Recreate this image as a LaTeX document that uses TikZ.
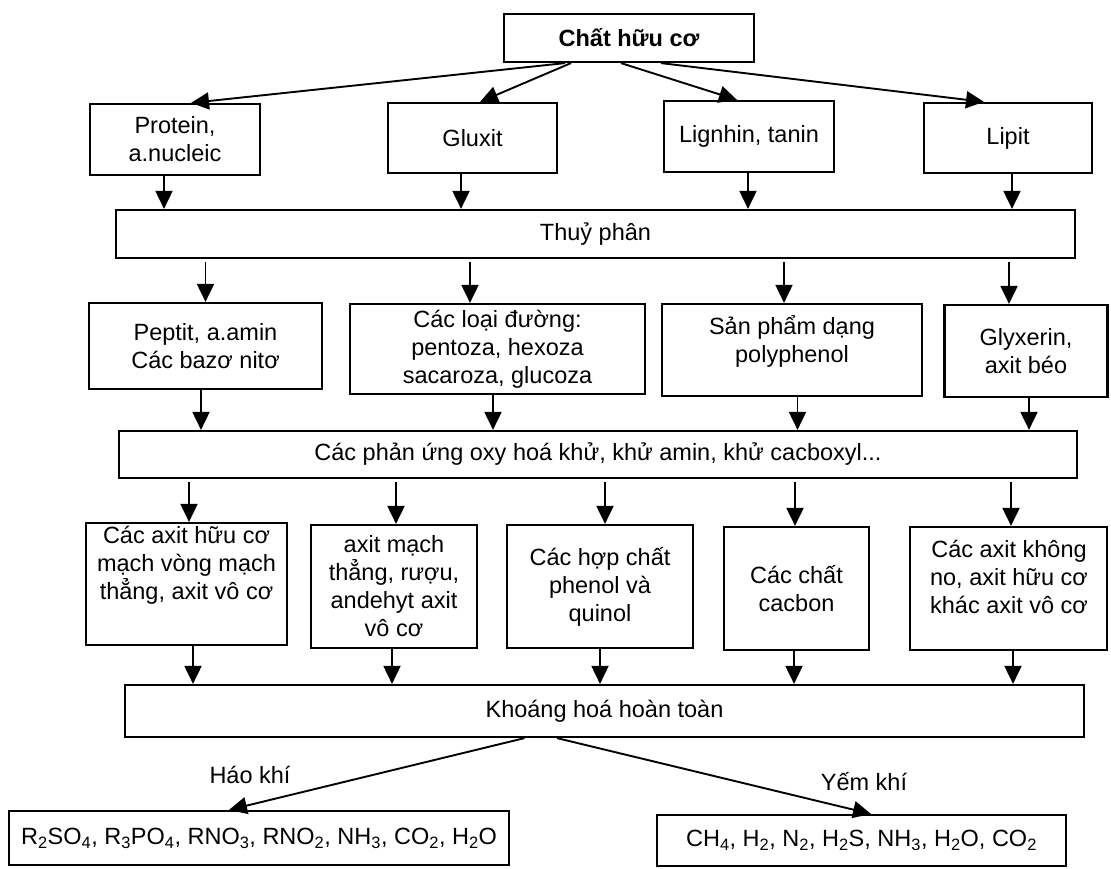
\documentclass[tikz,border=0pt]{standalone}
\usepackage{fontspec}
\setmainfont{Liberation Sans}
\usetikzlibrary{arrows.meta}
\newcommand\vdown[3]{\draw[arr] ([xshift=#3]#1.south) -- ([xshift=#3]#1.south |- #2.north);}
\newcommand\vfrombar[3]{\draw[arr, shorten <=3pt] ([xshift=#3]#2.north |- #1.south) -- ([xshift=#3]#2.north);}
\begin{document}
\begin{tikzpicture}[x=1pt,y=-1pt,
  box/.style={draw, line width=2.2pt, rectangle, inner sep=0pt, align=center, font=\fontsize{23.5}{28}\selectfont},
  lbl/.style={inner sep=0pt, align=center, font=\fontsize{23.5}{28}\selectfont},
  arr/.style={line width=1.9pt, -{Triangle[length=18pt,width=17pt]}}
]
\useasboundingbox[fill=white] (0,0) rectangle (1111,868);

% top
\node[box, minimum width=250pt, minimum height=48pt] (top) at (629,38) {\bfseries Chất hữu cơ};

% row 1
\node[box, minimum width=170pt, minimum height=71pt] (prot) at (175,139.5) {Protein,\\a.nucleic};
\node[box, minimum width=169pt, minimum height=70pt] (glu) at (472.5,138) {Gluxit};
\node[box, minimum width=170pt, minimum height=71pt] (lig) at (749,136.5) {Lignhin, tanin};
\node[box, minimum width=168pt, minimum height=70pt] (lip) at (1008,138) {Lipit};

% bar 1
\node[box, minimum width=959pt, minimum height=48pt] (thuy) at (595.5,234) {Thuỷ phân};

% row 2
\node[box, minimum width=233pt, minimum height=86pt] (pep) at (205.5,346) {Peptit, a.amin\\Các bazơ nitơ};
\node[box, minimum width=295pt, minimum height=90pt] (duong) at (497.5,349) {Các loại đường:\\pentoza, hexoza\\sacaroza, glucoza};
\node[box, minimum width=260pt, minimum height=92pt] (sp) at (792,350) {};
\node[lbl] (spt) at (792,341) {Sản phẩm dạng\\polyphenol};
\node[box, minimum width=163pt, minimum height=92pt] (gly) at (1026,351) {Glyxerin,\\axit béo};

% bar 2
\node[box, minimum width=958pt, minimum height=47pt] (pu) at (598,454.5) {Các phản ứng oxy hoá khử, khử amin, khử cacboxyl...};

% row 3
\node[box, minimum width=201pt, minimum height=122pt] (ra) at (186.5,584) {};
\node[lbl] (rat) at (186.5,565) {Các axit hữu cơ\\mạch vòng mạch\\thẳng, axit vô cơ};
\node[box, minimum width=166pt, minimum height=123pt] (rb) at (394,586.5) {axit mạch\\thẳng, rượu,\\andehyt axit\\vô cơ};
\node[box, minimum width=186pt, minimum height=123pt] (rc) at (600,586.5) {Các hợp chất\\phenol và\\quinol};
\node[box, minimum width=145pt, minimum height=123pt] (rd) at (796.5,588.5) {Các chất\\cacbon};
\node[box, minimum width=197pt, minimum height=123pt] (re) at (1008.5,588.5) {};
\node[lbl] (ret) at (1009,577) {Các axit không\\no, axit hữu cơ\\khác axit vô cơ};

% bar 3
\node[box, minimum width=959pt, minimum height=52pt] (kh) at (604.5,711) {Khoáng hoá hoàn toàn};

% bottom
\node[box, minimum width=500pt, minimum height=54pt] (lb) at (259,838) {R\textsubscript{2}SO\textsubscript{4}, R\textsubscript{3}PO\textsubscript{4}, RNO\textsubscript{3}, RNO\textsubscript{2}, NH\textsubscript{3}, CO\textsubscript{2}, H\textsubscript{2}O};
\node[box, minimum width=409pt, minimum height=51pt] (rbx) at (861.5,840.5) {CH\textsubscript{4}, H\textsubscript{2}, N\textsubscript{2}, H\textsubscript{2}S, NH\textsubscript{3}, H\textsubscript{2}O, CO\textsubscript{2}};

\node[lbl] (hao) at (250,775) {Háo khí};
\node[lbl] (yem) at (864,782) {Yếm khí};

% top fan
\draw[arr] ([xshift=-64pt]top.south) -- ([xshift=16pt]prot.north);
\draw[arr] ([xshift=-58pt]top.south) -- ([xshift=7.5pt]glu.north);
\draw[arr] ([xshift=-8pt]top.south) -- ([xshift=-12pt]lig.north);
\draw[arr] ([xshift=32pt]top.south) -- ([xshift=-24pt]lip.north);

% row1 -> bar1
\vdown{prot}{thuy}{-11pt}
\vdown{glu}{thuy}{-11.5pt}
\vdown{lig}{thuy}{-1pt}
\vdown{lip}{thuy}{4pt}

% bar1 -> row2
\vfrombar{thuy}{pep}{0pt}
\vfrombar{thuy}{duong}{-27.5pt}
\vfrombar{thuy}{sp}{-8pt}
\vfrombar{thuy}{gly}{-17pt}

% row2 -> bar2
\vdown{pep}{pu}{-4.5pt}
\vdown{duong}{pu}{-4.5pt}
\vdown{sp}{pu}{5.5pt}
\vdown{gly}{pu}{3pt}

% bar2 -> row3
\vfrombar{pu}{ra}{2.5pt}
\vfrombar{pu}{rb}{2pt}
\vfrombar{pu}{rc}{5pt}
\vfrombar{pu}{rd}{-1.5pt}
\vfrombar{pu}{re}{2.5pt}

% row3 -> bar3
\vdown{ra}{kh}{6.5pt}
\vdown{rb}{kh}{-2pt}
\vdown{rc}{kh}{0pt}
\vdown{rd}{kh}{-2.5pt}
\vdown{re}{kh}{4.5pt}

% bottom split
\draw[arr] ([xshift=-80pt]kh.south) -- ([xshift=-30pt]lb.north);
\draw[arr] ([xshift=-47.5pt]kh.south) -- ([xshift=9.5pt]rbx.north);
\end{tikzpicture}
\end{document}
